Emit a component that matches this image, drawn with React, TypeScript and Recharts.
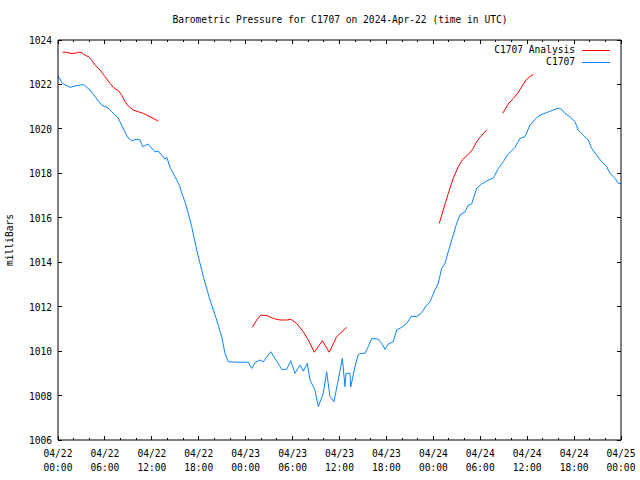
import { Legend, Line, LineChart, XAxis, YAxis } from 'recharts';

// hours since 2024-04-22 00:00 UTC
const stationHours = [
  0, 0.55, 1.53, 2.17, 3.24, 4.09, 4.73, 5.59, 6.39, 6.87, 7.67, 8.31, 8.95, 9.42, 10.06, 10.49,
  10.83, 11.51, 12.4, 12.83, 13.26, 13.68, 13.9, 14.32, 14.96, 15.6, 15.82, 16.24, 16.66, 17.1,
  17.74, 18.58, 19.44, 20.29, 20.93, 21.36, 21.78, 22.85, 24.34, 24.77, 25.19, 25.83, 26.25, 27.2,
  27.75, 28.61, 29.25, 29.76, 30.31, 30.95, 31.37, 31.88, 32.23, 32.86, 33.29, 33.93, 34.36, 34.78,
  35.29, 35.84, 36.36, 36.7, 36.83, 37.34, 37.43, 37.98, 38.4, 38.84, 39.26, 39.68, 40.12, 40.96,
  41.39, 41.82, 42.24, 42.88, 43.31, 43.95, 44.59, 45.23, 45.87, 46.51, 47.15, 47.57, 48.21, 48.63,
  49.07, 49.49, 49.91, 50.42, 50.98, 51.41, 52.05, 52.47, 52.9, 53.54, 54.18, 55.03, 55.67, 56.31,
  56.95, 57.46, 57.8, 58.44, 59.08, 59.72, 60.36, 61.0, 61.64, 62.49, 63.34, 63.98, 64.41, 64.83,
  65.47, 66.11, 66.53, 67.17, 67.81, 68.24, 68.88, 69.53, 70.17, 70.59, 71.23, 71.65, 72,
];
const stationPressure = [
  1022.4, 1022.05, 1021.87, 1021.93, 1022.0, 1021.75, 1021.45, 1021.07, 1020.94, 1020.77, 1020.5,
  1020.04, 1019.6, 1019.47, 1019.54, 1019.5, 1019.2, 1019.32, 1018.97, 1019.0, 1018.82, 1018.64,
  1018.73, 1018.28, 1017.85, 1017.4, 1017.1, 1016.72, 1016.2, 1015.6, 1014.55, 1013.35, 1012.3,
  1011.4, 1010.65, 1009.9, 1009.52, 1009.5, 1009.5, 1009.22, 1009.48, 1009.6, 1009.52, 1009.97,
  1009.68, 1009.18, 1009.18, 1009.57, 1009.0, 1009.37, 1009.1, 1009.45, 1008.7, 1008.25, 1007.5,
  1008.1, 1009.07, 1007.95, 1007.72, 1008.7, 1009.68, 1008.4, 1009.0, 1009.0, 1008.38, 1009.3,
  1009.85, 1009.9, 1009.9, 1010.2, 1010.57, 1010.54, 1010.35, 1010.08, 1010.32, 1010.42, 1010.95,
  1011.07, 1011.25, 1011.58, 1011.55, 1011.73, 1012.07, 1012.22, 1012.75, 1013.05, 1013.72,
  1013.95, 1014.47, 1015.07, 1015.75, 1016.13, 1016.27, 1016.57, 1016.62, 1017.33, 1017.52,
  1017.7, 1017.78, 1018.22, 1018.52, 1018.82, 1018.93, 1019.17, 1019.57, 1019.65, 1020.17,
  1020.43, 1020.62, 1020.73, 1020.85, 1020.93, 1020.88, 1020.7, 1020.55, 1020.32, 1019.95,
  1019.72, 1019.5, 1019.13, 1018.82, 1018.52, 1018.3, 1018.0, 1017.78, 1017.55, 1017.55,
];

// analysis runs, null = no analysis between runs
const analysisHours = [
  0.6, 1.11, 1.53, 2.17, 2.6, 3.03, 3.45, 3.87, 4.31, 4.73, 5.37, 6.01, 6.65, 7.07, 7.71, 8.15,
  8.57, 8.99, 9.63, 10.27, 10.91, 11.76, 12.4, 12.83,
  18,
  24.85, 25.41, 25.92, 26.69, 27.53, 28.39, 29.25, 29.8, 30.52, 31.37, 32.01, 32.78, 33.8, 34.69,
  35.64, 36.92,
  42,
  48.76, 49.27, 49.91, 50.55, 51.19, 51.75, 52.39, 53.03, 53.54, 53.96, 54.82,
  55.8,
  56.87, 57.58, 58.22, 58.86, 59.3, 59.85, 60.36, 60.78,
];
const analysisPressure = [
  1023.45, 1023.45, 1023.4, 1023.4, 1023.45, 1023.43, 1023.32, 1023.25, 1023.1, 1022.87, 1022.65,
  1022.35, 1022.05, 1021.87, 1021.72, 1021.52, 1021.22, 1021.03, 1020.85, 1020.77, 1020.7,
  1020.55, 1020.43, 1020.35,
  null,
  1011.07, 1011.4, 1011.62, 1011.6, 1011.47, 1011.4, 1011.4, 1011.43, 1011.25, 1010.87, 1010.5,
  1009.95, 1010.47, 1009.95, 1010.65, 1011.07,
  null,
  1015.75, 1016.35, 1017.1, 1017.78, 1018.3, 1018.63, 1018.82, 1019.08, 1019.42, 1019.62, 1019.95,
  null,
  1020.7, 1021.12, 1021.37, 1021.63, 1021.9, 1022.2, 1022.35, 1022.45,
];

const xDates = ['04/22', '04/22', '04/22', '04/22', '04/23', '04/23', '04/23', '04/23', '04/24', '04/24', '04/24', '04/24', '04/25'];
const xTimes = ['00:00', '06:00', '12:00', '18:00', '00:00', '06:00', '12:00', '18:00', '00:00', '06:00', '12:00', '18:00', '00:00'];
const yTicks = [1006, 1008, 1010, 1012, 1014, 1016, 1018, 1020, 1022, 1024];

const RED = '#ff0000';
const BLUE = '#0a84ff';
const FONT = '"DejaVu Sans Mono", monospace';
const FS = 9.6;

const xTicks = Array.from({ length: 37 }, (_, i) => i * 2);

const stationData = stationHours.map((h, i) => ({ h, p: stationPressure[i] }));
const analysisData = analysisHours.map((h, i) => ({ h, p: analysisPressure[i] }));

function BottomTick(props: any) {
  const { x, y, payload } = props;
  const h = payload.value as number;
  const major = h % 6 === 0;
  const i = h / 6;
  return (
    <g>
      <line x1={x} y1={y} x2={x} y2={y - (major ? 4 : 2)} stroke="#000" shapeRendering="crispEdges" />
      {major && (
        <text x={x} y={y + 17} textAnchor="middle" fontFamily={FONT} fontSize={FS} fill="#000">
          {xDates[i]}
        </text>
      )}
      {major && (
        <text x={x} y={y + 31} textAnchor="middle" fontFamily={FONT} fontSize={FS} fill="#000">
          {xTimes[i]}
        </text>
      )}
    </g>
  );
}

function TopTick(props: any) {
  const { x, y, payload } = props;
  const major = (payload.value as number) % 6 === 0;
  return <line x1={x} y1={y} x2={x} y2={y + (major ? 4 : 2)} stroke="#000" shapeRendering="crispEdges" />;
}

function LeftTick(props: any) {
  const { x, y, payload } = props;
  return (
    <g>
      <line x1={x} y1={y} x2={x + 4} y2={y} stroke="#000" shapeRendering="crispEdges" />
      <text x={x - 6} y={y + 4} textAnchor="end" fontFamily={FONT} fontSize={FS} fill="#000">
        {payload.value}
      </text>
    </g>
  );
}

function RightTick(props: any) {
  const { x, y } = props;
  return <line x1={x} y1={y} x2={x - 4} y2={y} stroke="#000" shapeRendering="crispEdges" />;
}

function LegendBox() {
  const rows = [
    { name: 'C1707 Analysis', color: RED },
    { name: 'C1707', color: BLUE },
  ];
  return (
    <div style={{ fontFamily: FONT, fontSize: FS }}>
      {rows.map((r) => (
        <div key={r.name} style={{ display: 'flex', justifyContent: 'flex-end', alignItems: 'center', height: 12 }}>
          <span style={{ marginRight: 7, lineHeight: '12px' }}>{r.name}</span>
          <svg width={28} height={3}>
            <line x1={0} y1={1.5} x2={28} y2={1.5} stroke={r.color} strokeWidth={1} />
          </svg>
        </div>
      ))}
    </div>
  );
}

export default function App() {
  return (
    <div style={{ position: 'absolute', left: 0, top: 0, width: 640, height: 480, background: '#fff' }}>
      <div
        style={{
          position: 'absolute',
          top: 13,
          left: 0,
          width: 680,
          textAlign: 'center',
          fontFamily: FONT,
          fontSize: FS,
          lineHeight: '14px',
        }}
      >
        Barometric Pressure for C1707 on 2024-Apr-22 (time in UTC)
      </div>
      <div
        style={{
          position: 'absolute',
          left: 3,
          top: 240,
          transform: 'translate(-50%, -50%) rotate(-90deg) translate(0, 50%)',
          transformOrigin: 'center',
          fontFamily: FONT,
          fontSize: FS,
          lineHeight: '14px',
          whiteSpace: 'nowrap',
        }}
      >
        milliBars
      </div>
      <LineChart width={640} height={480} margin={{ top: 39, right: 18, bottom: 39, left: 57 }}>
        <XAxis
          xAxisId="bottom"
          dataKey="h"
          type="number"
          domain={[0, 72]}
          ticks={xTicks}
          interval={0}
          height={1}
          tickSize={0}
          tickMargin={0}
          tickLine={false}
          axisLine={{ stroke: '#000' }}
          tick={<BottomTick />}
          allowDataOverflow
        />
        <XAxis
          xAxisId="top"
          orientation="top"
          dataKey="h"
          type="number"
          domain={[0, 72]}
          ticks={xTicks}
          interval={0}
          height={1}
          tickSize={0}
          tickMargin={0}
          tickLine={false}
          axisLine={{ stroke: '#000' }}
          tick={<TopTick />}
          allowDataOverflow
        />
        <YAxis
          yAxisId="left"
          type="number"
          domain={[1006, 1024]}
          ticks={yTicks}
          interval={0}
          width={1}
          tickSize={0}
          tickMargin={0}
          tickLine={false}
          axisLine={{ stroke: '#000' }}
          tick={<LeftTick />}
          allowDataOverflow
        />
        <YAxis
          yAxisId="right"
          orientation="right"
          type="number"
          domain={[1006, 1024]}
          ticks={yTicks}
          interval={0}
          width={1}
          tickSize={0}
          tickMargin={0}
          tickLine={false}
          axisLine={{ stroke: '#000' }}
          tick={<RightTick />}
          allowDataOverflow
        />
        <Legend
          layout="vertical"
          align="center"
          verticalAlign="middle"
          content={<LegendBox />}
          wrapperStyle={{ position: 'absolute', top: 44, right: 30, left: 'auto', bottom: 'auto', width: 300 }}
        />
        <Line
          xAxisId="bottom"
          yAxisId="left"
          data={analysisData}
          dataKey="p"
          name="C1707 Analysis"
          type="linear"
          stroke={RED}
          strokeWidth={1}
          dot={false}
          activeDot={false}
          connectNulls={false}
          isAnimationActive={false}
        />
        <Line
          xAxisId="bottom"
          yAxisId="left"
          data={stationData}
          dataKey="p"
          name="C1707"
          type="linear"
          stroke={BLUE}
          strokeWidth={1}
          dot={false}
          activeDot={false}
          isAnimationActive={false}
        />
      </LineChart>
    </div>
  );
}
